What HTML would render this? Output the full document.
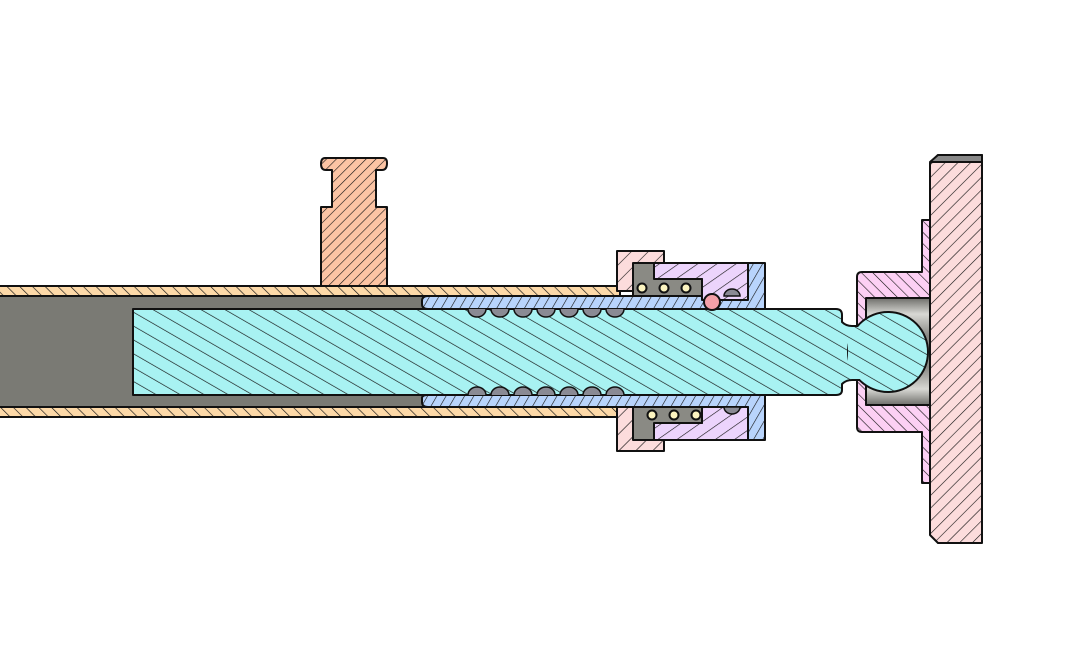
<!DOCTYPE html>
<html><head><meta charset="utf-8"><style>html,body{margin:0;padding:0;background:#fff}svg{display:block}</style></head>
<body>
<svg width="1066" height="646" viewBox="0 0 1066 646" xmlns="http://www.w3.org/2000/svg">
<defs>
<pattern id="hTan" width="9" height="9" patternUnits="userSpaceOnUse" patternTransform="rotate(-45)"><rect width="9" height="9" fill="#fdd9a8"/><line x1="0" y1="0" x2="0" y2="9" stroke="#111" stroke-width="1.3"/></pattern>
<pattern id="hCyan" width="12" height="12" patternUnits="userSpaceOnUse" patternTransform="rotate(-60)"><rect width="12" height="12" fill="#a8f2f2"/><line x1="0" y1="0" x2="0" y2="12" stroke="#111" stroke-width="1.3"/></pattern>
<pattern id="hOrange" width="7" height="7" patternUnits="userSpaceOnUse" patternTransform="rotate(45)"><rect width="7" height="7" fill="#fcc4a4"/><line x1="0" y1="0" x2="0" y2="7" stroke="#111" stroke-width="1.2"/></pattern>
<pattern id="hBlue" width="8" height="8" patternUnits="userSpaceOnUse" patternTransform="rotate(30)"><rect width="8" height="8" fill="#b8d4fc"/><line x1="0" y1="0" x2="0" y2="8" stroke="#111" stroke-width="1.2"/></pattern>
<pattern id="hPink" width="12" height="12" patternUnits="userSpaceOnUse" patternTransform="rotate(45)"><rect width="12" height="12" fill="#fcdcdc"/><line x1="0" y1="0" x2="0" y2="12" stroke="#111" stroke-width="1.2"/></pattern>
<pattern id="hPurple" width="11" height="11" patternUnits="userSpaceOnUse" patternTransform="rotate(55)"><rect width="11" height="11" fill="#ecd4fc"/><line x1="0" y1="0" x2="0" y2="11" stroke="#111" stroke-width="1.2"/></pattern>
<pattern id="hMag" width="8" height="8" patternUnits="userSpaceOnUse" patternTransform="rotate(-45)"><rect width="8" height="8" fill="#fcd0f4"/><line x1="0" y1="0" x2="0" y2="8" stroke="#111" stroke-width="1.2"/></pattern>
<pattern id="hPlate" width="9" height="9" patternUnits="userSpaceOnUse" patternTransform="rotate(45)"><rect width="9" height="9" fill="#fcdcdc"/><line x1="0" y1="0" x2="0" y2="9" stroke="#111" stroke-width="1.2"/></pattern>
<linearGradient id="gGray" x1="0" y1="0" x2="0" y2="1"><stop offset="0" stop-color="#6e6e6a"/><stop offset="0.15" stop-color="#d8d8d4"/><stop offset="0.35" stop-color="#8a8a86"/><stop offset="0.65" stop-color="#8a8a86"/><stop offset="0.85" stop-color="#d8d8d4"/><stop offset="1" stop-color="#6e6e6a"/></linearGradient>
</defs>
<g stroke="#111" stroke-width="2" stroke-linejoin="round">
<rect x="-2" y="296" width="622" height="111" fill="#7a7a74"/>
<rect x="-2" y="286" width="622" height="10" fill="url(#hTan)"/>
<rect x="-2" y="407" width="622" height="10" fill="url(#hTan)"/>
<path d="M325,158 H383 Q387,158 387,163 Q387,170 382,170 H376 V207 H387 V286 H321 V207 H332 V170 H326 Q321,170 321,164 Q321,158 325,158 Z" fill="url(#hOrange)"/>
<path d="M428,296 H748 V263 H765 V440 H748 V407 H428 Q422,407 422,402 V398 Q422,395 428,395 H700 V309 H428 Q422,309 422,304 V301 Q422,296 428,296 Z" fill="url(#hBlue)"/>
<rect x="617" y="251" width="47" height="40" fill="url(#hPink)"/>
<rect x="617" y="407" width="47" height="44" fill="url(#hPink)"/>
<path d="M654,263 H748 V300 H702 V279 H654 Z" fill="url(#hPurple)"/>
<path d="M654,440 H748 V407 H702 V423 H654 Z" fill="url(#hPurple)"/>
<path d="M633,263 H654 V279 H702 V296 H633 Z" fill="#8a8a84"/>
<path d="M633,440 H654 V423 H702 V407 H633 Z" fill="#8a8a84"/>
<path d="M862,272 H922 V220 H940 V483 H922 V432 H862 Q857,432 857,427 V277 Q857,272 862,272 Z" fill="url(#hMag)"/>
<rect x="866" y="298" width="74" height="107" fill="url(#gGray)"/>
<path d="M133,309 H836 Q842,309 842,315 V322 Q846,326 852,326 L862,326 V380 H852 Q846,380 842,384 V390 Q842,395 836,395 H133 Z" fill="url(#hCyan)"/>
<circle cx="888" cy="352" r="40" fill="url(#hCyan)"/>
<rect x="848" y="327" width="16" height="52" fill="url(#hCyan)" stroke="none"/>
<path d="M938,155 H982 V543 H938 L930,535 V163 Z" fill="url(#hPlate)"/>
<path d="M938,155 H982 V162 H930 Z" fill="#888"/>
</g>
<g fill="#8a8a94" stroke="#111" stroke-width="1.5">
<path d="M468,309 a9,8 0 0 0 18,0 h5 a9,8 0 0 0 18,0 h5 a9,8 0 0 0 18,0 h5 a9,8 0 0 0 18,0 h5 a9,8 0 0 0 18,0 h5 a9,8 0 0 0 18,0 h5 a9,8 0 0 0 18,0"/>
<path d="M468,395 a9,8 0 0 1 18,0 h5 a9,8 0 0 1 18,0 h5 a9,8 0 0 1 18,0 h5 a9,8 0 0 1 18,0 h5 a9,8 0 0 1 18,0 h5 a9,8 0 0 1 18,0 h5 a9,8 0 0 1 18,0"/>
<path d="M724,296 a8,7 0 0 1 16,0 Z"/>
<path d="M724,407 a8,7 0 0 0 16,0 Z"/>
</g>
<g stroke="#111" stroke-width="2">
<circle cx="712" cy="302" r="8" fill="#f4a0a8"/>
<circle cx="642" cy="288" r="4.5" fill="#fcf4c0"/><circle cx="664" cy="288" r="4.5" fill="#fcf4c0"/><circle cx="686" cy="288" r="4.5" fill="#fcf4c0"/>
<circle cx="652" cy="415" r="4.5" fill="#fcf4c0"/><circle cx="674" cy="415" r="4.5" fill="#fcf4c0"/><circle cx="696" cy="415" r="4.5" fill="#fcf4c0"/>
</g>
</svg>
</body></html>
